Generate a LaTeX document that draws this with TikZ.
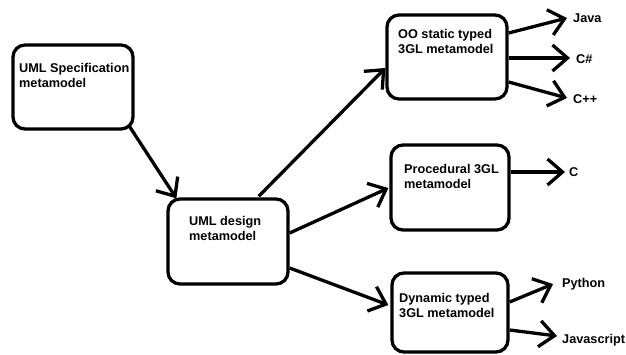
\documentclass[tikz,border=0pt]{standalone}
\usepackage{fontspec}
\setmainfont{Liberation Sans}
\usetikzlibrary{arrows.meta,calc}
\begin{document}
\begin{tikzpicture}[x=1pt,y=-1pt,
  box/.style={draw,line width=3.3pt,rounded corners=12pt,inner sep=0pt},
  txt/.style={inner sep=0pt,anchor=north west,align=left,font=\fontsize{12.7}{15}\selectfont\bfseries},
  lbl/.style={inner sep=0pt,anchor=base west,font=\fontsize{12.7}{15}\selectfont\bfseries},
  conn/.style={line width=3.3pt,-{Straight Barb[length=15pt,width=26pt,line width=3.3pt]}}
]
\useasboundingbox (0,0) rectangle (626,354);
% boxes
\node[box,minimum width=120pt,minimum height=84pt] (b1) at (73,87) {};
\node[box,minimum width=120pt,minimum height=85pt] (b2) at (228,241.5) {};
\node[box,minimum width=120pt,minimum height=84pt] (b3) at (447,57) {};
\node[box,minimum width=118pt,minimum height=85pt] (b4) at (450,187.5) {};
\node[box,minimum width=116pt,minimum height=79pt] (b5) at (450,312.5) {};
% box texts
\node[txt] (t1) at (19,62.8) {UML Specification\\metamodel};
\node[txt] (t2) at (189,215.8) {UML design\\metamodel};
\node[txt] (t3) at (398,28.8) {OO static typed\\3GL metamodel};
\node[txt] (t4) at (404,163.8) {Procedural 3GL\\metamodel};
\node[txt] (t5) at (399,292.8) {Dynamic typed\\3GL metamodel};
% language labels
\node[lbl] (java) at (573,22) {Java};
\node[lbl] (cs) at (576,63) {C\#};
\node[lbl] (cpp) at (573,103) {C++};
\node[lbl] (c) at (569,176) {C};
\node[lbl] (py) at (562,287) {Python};
\node[lbl] (js) at (562,343) {Javascript};
% main connectors
\draw[conn] ($(b1.south east)+(-5,-4)$) -- ($(b2.north west)+(10,1)$);
\draw[conn] ($(b2.north east)+(-31,-1)$) -- ($(b3.west)+(0,11)$);
\draw[conn] ($(b2.east)+(0,-8.5)$) -- ($(b4.west)+(-1,0.5)$);
\draw[conn] ($(b2.east)+(0,26.5)$) -- ($(b5.west)+(-2,-7.5)$);
% language connectors
\draw[conn] ($(b3.east)+(0,-24)$) -- ($(java.base west)+(-6,-4)$);
\draw[conn] ($(b3.east)+(0,1)$) -- ($(cs.base west)+(-6,-5)$);
\draw[conn] ($(b3.east)+(0,25)$) -- ($(cpp.base west)+(-6,-5)$);
\draw[conn] ($(b4.east)+(0,-15.5)$) -- ($(c.base west)+(-4,-4)$);
\draw[conn] ($(b5.east)+(0,-10.5)$) -- ($(py.base west)+(-9,-3)$);
\draw[conn] ($(b5.east)+(0,17.5)$) -- ($(js.base west)+(-5,-7)$);
\end{tikzpicture}
\end{document}
